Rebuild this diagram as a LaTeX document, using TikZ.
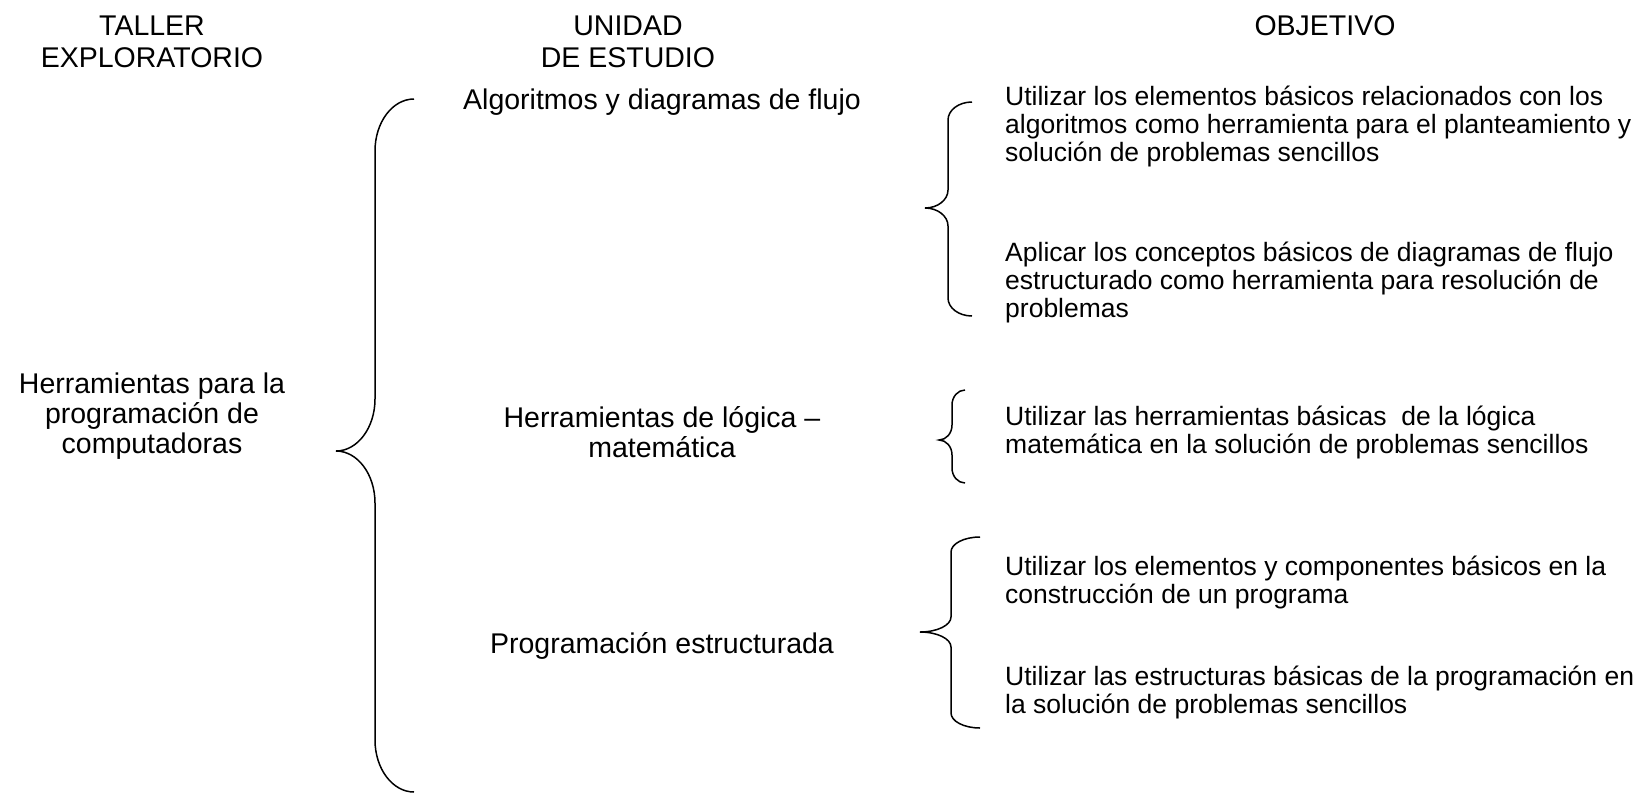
\documentclass[tikz,border=0pt]{standalone}
\usepackage{fontspec}
\setmainfont{Liberation Sans}
\newcommand\mybrace[7]{%
 \draw[bracestyle] (#1,#4) .. controls ({#2+0.448*(#1-#2)},#4) and (#2,{#4+0.448*#7}) .. (#2,{#4+#7})
   -- (#2,{#5-#7}) .. controls (#2,{#5-0.448*#7}) and ({#3+0.552*(#2-#3)},#5) .. (#3,#5)
   .. controls ({#3+0.552*(#2-#3)},#5) and (#2,{#5+0.448*#7}) .. (#2,{#5+#7})
   -- (#2,{#6-#7}) .. controls (#2,{#6-0.448*#7}) and ({#2+0.448*(#1-#2)},#6) .. (#1,#6);}
\tikzset{
  bracestyle/.style={line width=1.5pt, black},
  headtxt/.style={inner sep=0pt, align=center, font=\fontsize{28.5}{32}\selectfont},
  bigtxt/.style={inner sep=0pt, align=center, font=\fontsize{28.5}{30}\selectfont},
  objtxt/.style={inner sep=0pt, anchor=west, align=left, font=\fontsize{26.5}{28}\selectfont},
}
\begin{document}
\begin{tikzpicture}[x=1pt,y=-1pt]
\useasboundingbox (0,0) rectangle (1642,793);
% headers
\node[headtxt] (h1) at (152,42) {TALLER\\EXPLORATORIO};
\node[headtxt] (h2) at (628,42) {UNIDAD\\DE ESTUDIO};
\node[headtxt] (h3) at (1325,26) {OBJETIVO};
% left
\node[bigtxt] (main) at (152,416) {Herramientas para la\\programación de\\computadoras};
% middle
\node[bigtxt] (u1) at (662,102) {Algoritmos y diagramas de flujo};
\node[bigtxt] (u2) at (662,432) {Herramientas de lógica –\\matemática};
\node[bigtxt] (u3) at (662,646) {Programación estructurada};
% right
\node[objtxt] (o1) at (1005,126) {Utilizar los elementos básicos relacionados con los\\algoritmos como herramienta para el planteamiento y\\solución de problemas sencillos};
\node[objtxt] (o2) at (1005,282) {Aplicar los conceptos básicos de diagramas de flujo\\estructurado como herramienta para resolución de\\problemas};
\node[objtxt] (o3) at (1005,432) {Utilizar las herramientas básicas\ \ de la lógica\\matemática en la solución de problemas sencillos};
\node[objtxt] (o4) at (1005,582) {Utilizar los elementos y componentes básicos en la\\construcción de un programa};
\node[objtxt] (o5) at (1005,692) {Utilizar las estructuras básicas de la programación en\\la solución de problemas sencillos};
% braces
\mybrace{414}{375}{336}{99}{451}{792}{52}
\mybrace{972}{948}{925}{102}{208}{316}{18}
\mybrace{965}{952}{939}{390}{440}{483}{15}
\mybrace{980}{951}{920}{537}{632}{728}{15}
\end{tikzpicture}
\end{document}
